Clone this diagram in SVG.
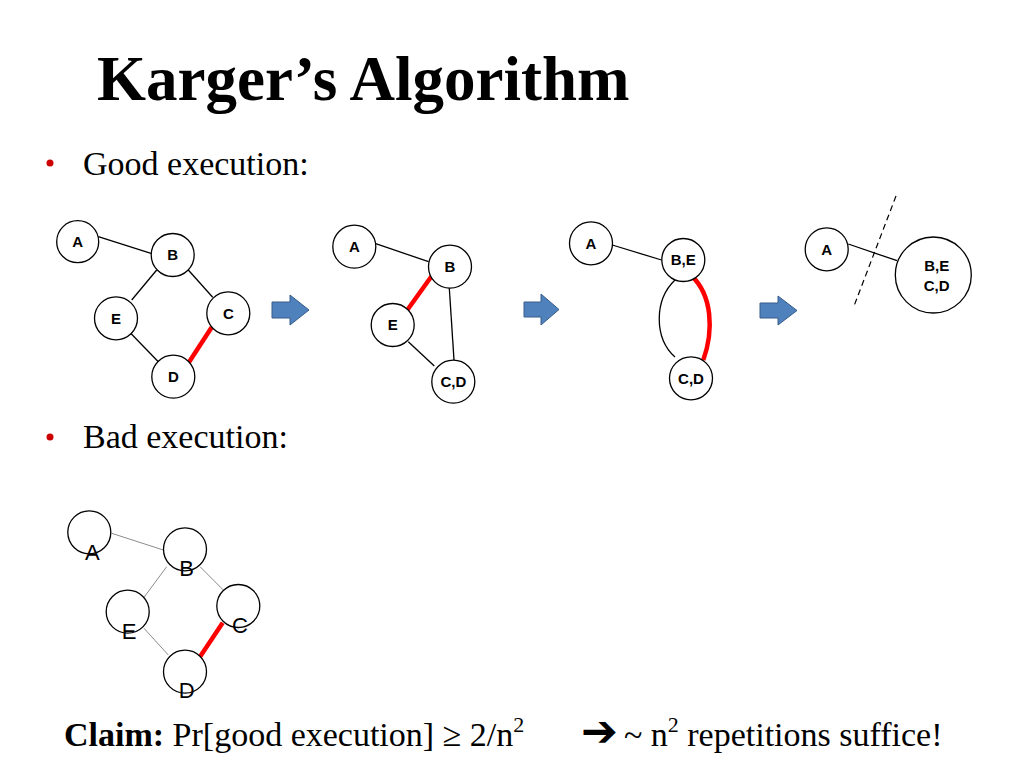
<svg xmlns="http://www.w3.org/2000/svg" width="1024" height="768" viewBox="0 0 1024 768">
<defs>
<style>
.bg{fill:#ffffff}
.title{font-family:"Liberation Serif","Times New Roman",serif;font-weight:bold;font-size:63px;fill:#000}
.bullet{font-family:"Liberation Serif","Times New Roman",serif;font-size:34px;fill:#000}
.dot{fill:#cc0000}
.claim{font-family:"Liberation Serif","Times New Roman",serif;font-size:34px;fill:#000}
.nd{fill:#fff;stroke:#000;stroke-width:1.3}
.lbl{font-family:"Liberation Sans",Arial,sans-serif;font-weight:bold;font-size:15px;fill:#000;text-anchor:middle}
.lbl2{font-family:"Liberation Sans",Arial,sans-serif;font-size:22px;fill:#000;text-anchor:middle}
.e{stroke:#000;stroke-width:1.3;fill:none}
.eg{stroke:#8c8c8c;stroke-width:1;fill:none}
.er{stroke:#ff0000;stroke-width:4.5;fill:none}
.step{fill:#4f81bd;stroke:#385d8a;stroke-width:1}
.cut{stroke:#000;stroke-width:1.2;stroke-dasharray:6,4;fill:none}
</style>
</defs>
<rect class="bg" x="0" y="0" width="1024" height="768"/>

<text class="title" x="97" y="100">Karger’s Algorithm</text>

<circle class="dot" cx="50" cy="163" r="3.5"/>
<text class="bullet" x="83" y="175">Good execution:</text>
<circle class="dot" cx="50" cy="437" r="3.5"/>
<text class="bullet" x="83" y="448">Bad execution:</text>

<g id="connectors">
  <line class="e" x1="98.3" y1="236.7" x2="151" y2="253.3"/>
  <line class="e" x1="156.7" y1="270" x2="131.7" y2="300"/>
  <line class="e" x1="188.3" y1="270" x2="212.7" y2="297.3"/>
  <line class="e" x1="130.7" y1="333.3" x2="158.3" y2="361.7"/>
  <line class="er" x1="211.7" y1="327.3" x2="188.3" y2="363.3"/>
  <line class="e" x1="375" y1="243.3" x2="428.5" y2="261.7"/>
  <line class="er" x1="431.7" y1="276" x2="407.3" y2="310"/>
  <line class="e" x1="449.3" y1="288" x2="454" y2="360"/>
  <line class="e" x1="408.3" y1="341.7" x2="434.3" y2="366"/>
  <line class="e" x1="612.3" y1="245" x2="661.5" y2="260"/>
  <path class="e" d="M675,280 C654,300 654,338 675,357"/>
  <path class="er" d="M691.7,276 C712,295 714,330 703.3,360"/>
  <line class="e" x1="848.3" y1="244" x2="897" y2="260.7"/>
  <line class="cut" x1="896" y1="196" x2="854" y2="306"/>
  <line class="eg" x1="111.7" y1="533.3" x2="163.3" y2="550"/>
  <line class="eg" x1="166.7" y1="566.7" x2="143.3" y2="598.3"/>
  <line class="eg" x1="200" y1="566.7" x2="223.3" y2="590"/>
  <line class="eg" x1="144" y1="628.3" x2="168.3" y2="655"/>
  <line class="er" x1="222.7" y1="622.7" x2="200" y2="656.7"/>
  <path class="step" d="M272,302 H290 V295 L309,310 L290,325 V318 H272 Z"/>
  <path class="step" d="M524,302 H541 V294 L559,309.5 L541,325 V317 H524 Z"/>
  <path class="step" d="M760,303 H778 V296 L797,310.5 L778,325 V318 H760 Z"/>
</g>

<g id="g1-A"><circle class="nd" cx="77.7" cy="241.7" r="21"/><text class="lbl" x="77.7" y="247">A</text></g>
<g id="g1-B"><circle class="nd" cx="172.7" cy="255" r="21.5"/><text class="lbl" x="172.7" y="260.3">B</text></g>
<g id="g1-E"><circle class="nd" cx="116" cy="318.3" r="21.5"/><text class="lbl" x="116" y="323.6">E</text></g>
<g id="g1-C"><circle class="nd" cx="228.3" cy="313.3" r="21.5"/><text class="lbl" x="228.3" y="318.6">C</text></g>
<g id="g1-D"><circle class="nd" cx="173.3" cy="376.7" r="21.5"/><text class="lbl" x="173.3" y="382">D</text></g>

<g id="g2-A"><circle class="nd" cx="354.3" cy="246.7" r="21.5"/><text class="lbl" x="354.3" y="252">A</text></g>
<g id="g2-B"><circle class="nd" cx="450" cy="266.7" r="21.5"/><text class="lbl" x="450" y="272">B</text></g>
<g id="g2-E"><circle class="nd" cx="392.7" cy="325" r="21.5"/><text class="lbl" x="392.7" y="330.3">E</text></g>
<g id="g2-CD"><circle class="nd" cx="453.3" cy="381.7" r="21.5"/><text class="lbl" x="453.3" y="387">C,D</text></g>

<g id="g3-A"><circle class="nd" cx="591" cy="243.3" r="21.5"/><text class="lbl" x="591" y="248.6">A</text></g>
<g id="g3-BE"><circle class="nd" cx="683.3" cy="260" r="21.5"/><text class="lbl" x="683.3" y="265.3">B,E</text></g>
<g id="g3-CD"><circle class="nd" cx="691" cy="378.3" r="21.5"/><text class="lbl" x="691" y="383.6">C,D</text></g>

<g id="g4-A"><circle class="nd" cx="826.7" cy="249.3" r="21.5"/><text class="lbl" x="826.7" y="254.6">A</text></g>
<g id="g4-BECD"><circle class="nd" cx="933.3" cy="275" r="38"/><text class="lbl" x="936.7" y="271">B,E</text><text class="lbl" x="936.7" y="291">C,D</text></g>

<g id="b-A"><circle class="nd" cx="89.3" cy="532.3" r="21.5"/><text class="lbl2" x="92.3" y="560">A</text></g>
<g id="b-B"><circle class="nd" cx="185" cy="549.3" r="21.5"/><text class="lbl2" x="186.7" y="576">B</text></g>
<g id="b-E"><circle class="nd" cx="127.7" cy="611.7" r="21.5"/><text class="lbl2" x="129" y="639">E</text></g>
<g id="b-C"><circle class="nd" cx="238.3" cy="606" r="21.5"/><text class="lbl2" x="240" y="633">C</text></g>
<g id="b-D"><circle class="nd" cx="185" cy="671.7" r="21.5"/><text class="lbl2" x="186.7" y="698">D</text></g>

<text class="claim" x="64" y="746"><tspan font-weight="bold">Claim:</tspan> Pr[good execution] ≥ 2/n<tspan font-size="22" dy="-14">2</tspan></text>
<text class="claim" x="581" y="746"><tspan font-family="DejaVu Sans,sans-serif" font-size="44" font-weight="bold">➔</tspan><tspan dx="6">~ n</tspan><tspan font-size="22" dy="-14">2</tspan><tspan dy="14"> repetitions suffice!</tspan></text>
</svg>
